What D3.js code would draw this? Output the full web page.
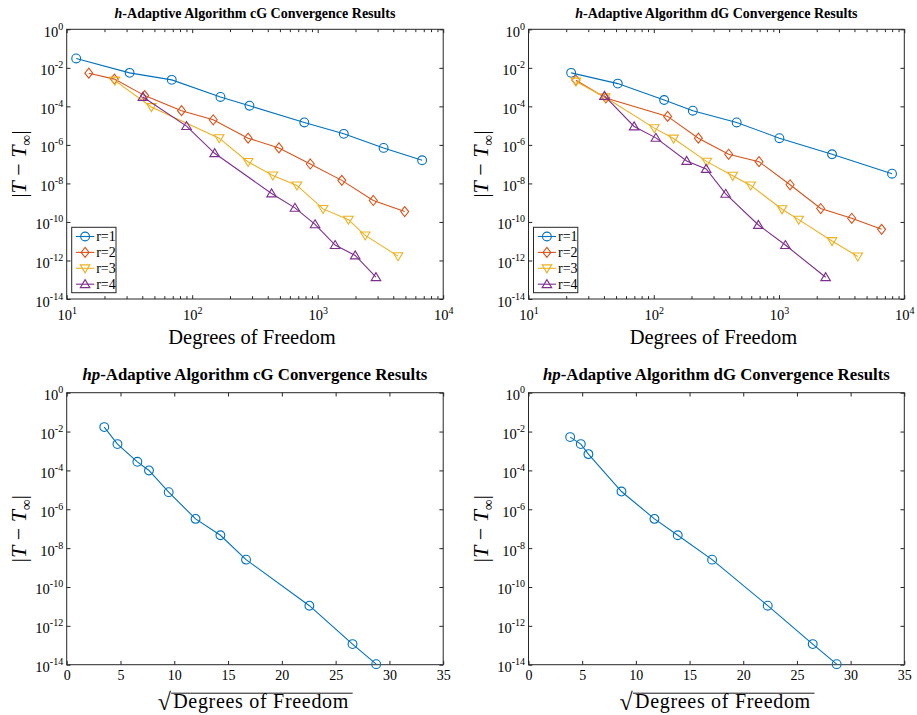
<!DOCTYPE html>
<html><head><meta charset="utf-8">
<script src="https://cdn.jsdelivr.net/npm/d3@7"></script>
<style>
body{margin:0;background:#fff;}
svg{display:block;font-family:"Liberation Serif","Times New Roman",serif;}
</style>
</head><body>
<svg id="chart" width="917" height="715"></svg>
<script>
// ---------------- DATA ----------------
const seriesLabels = ["r=1", "r=2", "r=3", "r=4"];
const yTickExponents = [0, -2, -4, -6, -8, -10, -12, -14];
const logXTickExponents = [1, 2, 3, 4];
const linXTicks = [0, 5, 10, 15, 20, 25, 30, 35];

// h-adaptive cG
const hCG_r1_dof = [11.9, 31.7, 68.7, 168, 286, 782, 1614, 3350, 6790];
const hCG_r1_err = [3.07e-2, 5.48e-3, 2.37e-3, 3.07e-4, 1.08e-4, 1.46e-5, 3.75e-6, 6.97e-7, 1.58e-7];
const hCG_r2_dof = [15.0, 24.0, 41.8, 82.2, 147, 279, 491, 873, 1556, 2773, 4935];
const hCG_r2_err = [5.27e-3, 2.6e-3, 3.61e-4, 5.94e-5, 2.01e-5, 2.23e-6, 6.97e-7, 1.02e-7, 1.44e-8, 1.30e-9, 3.46e-10];
const hCG_r3_dof = [24.2, 47.3, 164, 279, 439, 683, 1104, 1758, 2391, 4365];
const hCG_r3_err = [2.18e-3, 9.23e-5, 2.23e-6, 1.30e-7, 2.61e-8, 7.87e-9, 4.76e-10, 1.32e-10, 2.01e-11, 1.68e-12];
const hCG_r4_dof = [40.5, 90.1, 151, 429, 659, 953, 1377, 1990, 2912];
const hCG_r4_err = [3.07e-4, 9.42e-6, 3.67e-7, 3.01e-9, 5.37e-10, 7.55e-11, 6.31e-12, 1.82e-12, 1.35e-13];

// h-adaptive dG
const hDG_r1_dof = [21.9, 51.6, 121, 205, 459, 1007, 2650, 7980];
const hDG_r1_err = [5.48e-3, 1.52e-3, 2.14e-4, 5.94e-5, 1.46e-5, 2.23e-6, 3.26e-7, 3.19e-8];
const hDG_r2_dof = [23.9, 41.4, 129, 227, 396, 692, 1225, 2150, 3802, 6590];
const hDG_r2_err = [2.28e-3, 2.72e-4, 3.01e-5, 2.23e-6, 3.26e-7, 1.35e-7, 8.51e-9, 4.97e-10, 1.55e-10, 4.14e-11];
const hDG_r3_dof = [23.9, 40.9, 101, 144, 265, 427, 594, 1057, 1436, 2650, 4249];
const hDG_r3_err = [1.94e-3, 2.95e-4, 7.41e-6, 2.14e-6, 1.35e-7, 2.51e-8, 7.87e-9, 4.58e-10, 1.32e-10, 1.02e-11, 1.62e-12];
const hDG_r4_dof = [40.4, 69.7, 104, 183, 262, 375, 684, 1124, 2355];
const hDG_r4_err = [3.46e-4, 9.06e-6, 2.32e-6, 1.46e-7, 5.60e-8, 2.89e-9, 6.97e-11, 6.31e-12, 1.35e-13];

// hp-adaptive
const hpCG_sqrtDof = [3.49, 4.72, 6.57, 7.65, 9.48, 11.98, 14.29, 16.67, 22.56, 26.57, 28.77];
const hpCG_err = [1.70e-2, 2.26e-3, 2.77e-4, 9.93e-5, 7.59e-6, 3.20e-7, 4.60e-8, 2.56e-9, 1.09e-11, 1.15e-13, 1.07e-14];
const hpDG_sqrtDof = [3.88, 4.87, 5.58, 8.66, 11.73, 13.90, 17.10, 22.28, 26.47, 28.70];
const hpDG_err = [5.19e-3, 2.26e-3, 6.89e-4, 8.20e-6, 3.20e-7, 4.60e-8, 2.56e-9, 1.09e-11, 1.15e-13, 1.07e-14];

// ---------------- STYLE ----------------
const colors = ["#0072BD", "#D95319", "#EDB120", "#7E2F8E"];
const markerTypes = ["circle", "diamond", "triDown", "triUp"];
const axisColor = "#262626";
const TICK = 3.8;

const svg = d3.select("#chart");
svg.append("rect").attr("width", 917).attr("height", 715).attr("fill", "#fff");

function markerPath(type, x, y) {
  const p = d3.path();
  if (type === "diamond") {
    p.moveTo(x, y - 5); p.lineTo(x + 4, y); p.lineTo(x, y + 5); p.lineTo(x - 4, y); p.closePath();
  } else if (type === "triDown") {
    p.moveTo(x - 4.8, y - 3.4); p.lineTo(x + 4.8, y - 3.4); p.lineTo(x, y + 4.6); p.closePath();
  } else if (type === "triUp") {
    p.moveTo(x - 4.8, y + 3.4); p.lineTo(x + 4.8, y + 3.4); p.lineTo(x, y - 4.6); p.closePath();
  } else {
    p.arc(x, y, 4.4, 0, 2 * Math.PI); p.closePath();
  }
  return p.toString();
}

function drawPanel(cfg) {
  const { x0, x1, y0, y1 } = cfg;
  const g = svg.append("g");
  const x = cfg.logX
    ? d3.scaleLog().domain([10, 1e4]).range([x0, x1])
    : d3.scaleLinear().domain([0, 35]).range([x0, x1]);
  const y = d3.scaleLog().domain([1e-14, 1]).range([y1, y0]);

  const yTicks = yTickExponents.map(e => Math.pow(10, e));
  const xTicks = cfg.logX ? logXTickExponents.map(e => Math.pow(10, e)) : linXTicks;

  if (cfg.logX) {
    const minor = [];
    for (let e = 1; e < 4; e++) for (let m = 2; m <= 9; m++) minor.push(m * Math.pow(10, e));
    [[d3.axisBottom(x), y1], [d3.axisTop(x), y0]].forEach(([ax, ty]) => {
      const a = g.append("g").attr("transform", `translate(0,${ty})`)
        .call(ax.tickValues(minor).tickSizeInner(-TICK * 0.75).tickSizeOuter(0).tickFormat(() => ""));
      a.select(".domain").remove();
      a.selectAll("line").attr("stroke", axisColor);
    });
  }

  const axB = g.append("g").attr("transform", `translate(0,${y1})`)
    .call(d3.axisBottom(x).tickValues(xTicks).tickSizeInner(-TICK).tickSizeOuter(0).tickPadding(0));
  const axT = g.append("g").attr("transform", `translate(0,${y0})`)
    .call(d3.axisTop(x).tickValues(xTicks).tickSizeInner(-TICK).tickSizeOuter(0).tickFormat(() => ""));
  const axL = g.append("g").attr("transform", `translate(${x0},0)`)
    .call(d3.axisLeft(y).tickValues(yTicks).tickSizeInner(-TICK).tickSizeOuter(0).tickPadding(0));
  const axR = g.append("g").attr("transform", `translate(${x1},0)`)
    .call(d3.axisRight(y).tickValues(yTicks).tickSizeInner(-TICK).tickSizeOuter(0).tickFormat(() => ""));
  [axB, axT, axL, axR].forEach(a => {
    a.select(".domain").remove();
    a.selectAll("line").attr("stroke", axisColor);
    a.attr("font-family", null).attr("font-size", null);
  });

  axL.selectAll(".tick text").each(function (d) {
    const t = d3.select(this);
    const e = Math.round(Math.log10(d));
    t.text(null).attr("x", -3.5).attr("y", 7).attr("dy", null)
      .attr("text-anchor", "end").attr("fill", "#000").style("font-size", "14.5px");
    t.append("tspan").text("10");
    t.append("tspan").attr("dy", -7).style("font-size", "10px").text(String(e));
  });
  axB.selectAll(".tick text").each(function (d) {
    const t = d3.select(this);
    t.text(null).attr("dy", null).attr("fill", "#000").attr("text-anchor", "middle");
    if (cfg.logX) {
      const e = Math.round(Math.log10(d));
      t.attr("y", 21).style("font-size", "14.5px");
      t.append("tspan").text("10");
      t.append("tspan").attr("dy", -6.5).style("font-size", "10px").text(String(e));
    } else {
      t.attr("y", 15.5).style("font-size", "14px").text(String(d));
    }
  });

  g.append("rect").attr("x", x0).attr("y", y0).attr("width", x1 - x0).attr("height", y1 - y0)
    .attr("fill", "none").attr("stroke", axisColor).attr("stroke-width", 1);

  cfg.series.forEach((s, i) => {
    const pts = s.xs.map((v, k) => [x(v), y(s.ys[k])]);
    g.append("path").attr("d", d3.line()(pts)).attr("fill", "none")
      .attr("stroke", colors[i]).attr("stroke-width", 1.1);
    g.selectAll(null).data(pts).enter().append("path")
      .attr("d", p => markerPath(markerTypes[i], p[0], p[1]))
      .attr("fill", "none").attr("stroke", colors[i]).attr("stroke-width", 1.1);
  });

  const title = g.append("text").attr("x", (x0 + x1) / 2).attr("y", y0 + cfg.titleDy)
    .attr("text-anchor", "middle").attr("font-weight", "bold").style("font-size", cfg.titleSize + "px");
  title.append("tspan").attr("font-style", "italic").text(cfg.titleItalic);
  title.append("tspan").text(cfg.titleRest);

  if (cfg.logX) {
    g.append("text").attr("x", (x0 + x1) / 2 - 3).attr("y", y1 + 45)
      .attr("text-anchor", "middle").style("font-size", "20.5px").text("Degrees of Freedom");
  } else {
    g.append("text").attr("x", x0 + 91).attr("y", y1 + 45)
      .style("font-size", "24px").text("√");
    g.append("line").attr("x1", x0 + 104.5).attr("x2", x0 + 286).attr("y1", y1 + 28.5).attr("y2", y1 + 28.5)
      .attr("stroke", "#000").attr("stroke-width", 0.9);
    g.append("text").attr("x", x0 + 106.5).attr("y", y1 + 43.6)
      .style("font-size", "20px").style("letter-spacing", "0.7px").text("Degrees of Freedom");
  }

  const yl = g.append("text")
    .attr("transform", `translate(${x0 - 41},${(y0 + y1) / 2}) rotate(-90)`)
    .attr("text-anchor", "middle").style("font-size", "22px");
  yl.append("tspan").text("|");
  yl.append("tspan").attr("font-style", "italic").text("T");
  yl.append("tspan").text(" − ");
  yl.append("tspan").attr("font-style", "italic").text("T");
  yl.append("tspan").attr("dy", 5).style("font-size", "15px").text("∞");
  yl.append("tspan").attr("dy", -5).text("|");

  if (cfg.legend) {
    const lx = x0 + 5, ly = y1 - 71.7;
    g.append("rect").attr("x", lx).attr("y", ly).attr("width", 44.3).attr("height", 65.4)
      .attr("fill", "#fff").attr("stroke", axisColor).attr("stroke-width", 1);
    seriesLabels.forEach((lab, i) => {
      const cy = ly + 9.2 + i * 15.9;
      g.append("line").attr("x1", lx + 4.3).attr("x2", lx + 22.6).attr("y1", cy).attr("y2", cy)
        .attr("stroke", colors[i]).attr("stroke-width", 1.1);
      g.append("path").attr("d", markerPath(markerTypes[i], lx + 13.4, cy))
        .attr("fill", "none").attr("stroke", colors[i]).attr("stroke-width", 1.1);
      g.append("text").attr("x", lx + 24.5).attr("y", cy + 4.6).style("font-size", "14px").text(lab);
    });
  }
}

drawPanel({
  x0: 66.7, x1: 443.2, y0: 29.3, y1: 299, logX: true, legend: true,
  titleItalic: "h", titleRest: "-Adaptive Algorithm cG Convergence Results", titleSize: 14, titleDy: -11,
  series: [
    { xs: hCG_r1_dof, ys: hCG_r1_err }, { xs: hCG_r2_dof, ys: hCG_r2_err },
    { xs: hCG_r3_dof, ys: hCG_r3_err }, { xs: hCG_r4_dof, ys: hCG_r4_err }
  ]
});
drawPanel({
  x0: 528.5, x1: 904.3, y0: 29.3, y1: 299, logX: true, legend: true,
  titleItalic: "h", titleRest: "-Adaptive Algorithm dG Convergence Results", titleSize: 14, titleDy: -11,
  series: [
    { xs: hDG_r1_dof, ys: hDG_r1_err }, { xs: hDG_r2_dof, ys: hDG_r2_err },
    { xs: hDG_r3_dof, ys: hDG_r3_err }, { xs: hDG_r4_dof, ys: hDG_r4_err }
  ]
});
drawPanel({
  x0: 66.7, x1: 443.2, y0: 392.7, y1: 664.7, logX: false, legend: false,
  titleItalic: "hp", titleRest: "-Adaptive Algorithm cG Convergence Results", titleSize: 16.8, titleDy: -13.2,
  series: [{ xs: hpCG_sqrtDof, ys: hpCG_err }]
});
drawPanel({
  x0: 528.5, x1: 904.3, y0: 392.7, y1: 664.7, logX: false, legend: false,
  titleItalic: "hp", titleRest: "-Adaptive Algorithm dG Convergence Results", titleSize: 16.8, titleDy: -13.2,
  series: [{ xs: hpDG_sqrtDof, ys: hpDG_err }]
});
</script>
</body></html>
